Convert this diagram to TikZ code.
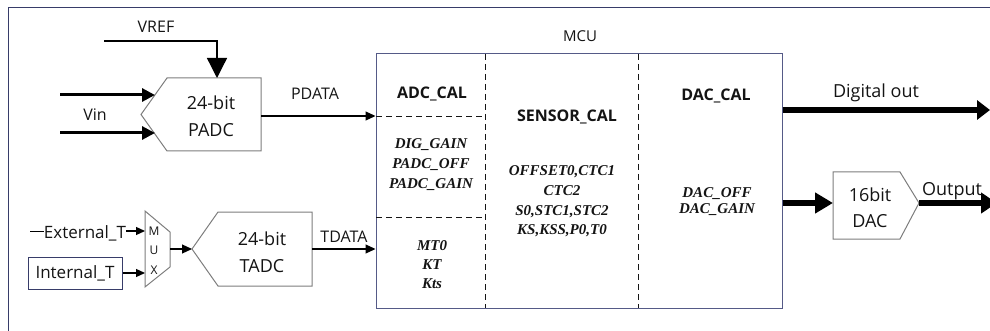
\documentclass[tikz,border=0pt]{standalone}
\usepackage{fontspec}
\setmainfont{Open Sans}
\newfontfamily\paramfont{Liberation Serif}
\usetikzlibrary{arrows.meta}

\definecolor{framecol}{RGB}{55,60,105}
\definecolor{shapecol}{RGB}{125,125,125}
\definecolor{mcucol}{RGB}{85,90,135}
\definecolor{textcol}{RGB}{20,20,20}

\tikzset{
  lbl/.style={inner sep=0pt, anchor=base, text=textcol, font=\fontsize{16}{18}\selectfont},
  biglbl/.style={lbl, font=\fontsize{18}{20}\selectfont},
  calhead/.style={lbl, font=\bfseries\fontsize{16}{18}\selectfont},
  param/.style={lbl, font=\paramfont\bfseries\itshape\fontsize{15}{18}\selectfont},
  muxlbl/.style={lbl, font=\fontsize{12}{13}\selectfont},
  block/.style={draw=shapecol, line width=1pt, line join=miter},
  divider/.style={draw=textcol, line width=0.8pt, dash pattern=on 6pt off 4pt},
  thin arrow/.style={line width=1.2pt, -{Triangle[length=10pt,width=9pt]}},
  vref arrow/.style={line width=1.3pt, -{Triangle[length=20pt,width=20pt]}},
  vin arrow/.style={line width=3pt, -{Triangle[length=13pt,width=13pt]}},
  bus arrow/.style={line width=5.5pt, -{Triangle[length=16pt,width=20pt]}}
}

\begin{document}
\begin{tikzpicture}[x=1pt, y=-1pt]
\useasboundingbox (0,0) rectangle (990,331);
% outer frame
\draw [framecol, line width=1pt] (8,331) -- (8,8) -- (990,8);

% pressure ADC
\draw [block] (167,78) -- (261,78) -- (261,151) -- (167,151) -- (141,114.5) -- cycle;
\node[biglbl] (padc1) at (211,110) {24-bit};
\node[biglbl] (padc2) at (211,137) {PADC};
\coordinate (padc-top) at (217,78);
\coordinate (padc-in1) at (155,95);
\coordinate (padc-in2) at (155,133);
\coordinate (padc-out) at (261,116);
\node[lbl] (vref) at (156,33) {VREF};
\coordinate (vref-in) at (104,41);
\draw [vref arrow] (vref-in) -| (padc-top);
\draw [vin arrow] (60,95) -- (padc-in1);
\draw [vin arrow] (60,133) -- (padc-in2);
\node[lbl] (vin) at (95,121) {Vin};

% MCU
\node[draw=mcucol, line width=1pt, minimum width=406pt, minimum height=254pt, inner sep=0pt] (mcu) at (579,181) {};
\node[lbl, font=\fontsize{15}{17}\selectfont] (mculbl) at (580,42) {MCU};
\draw [divider] (485,54) -- (485,308);
\draw [divider] (638,54) -- (638,308);
\draw [divider] (376,116) -- (485,116);
\draw [divider] (376,217) -- (485,217);
\node[calhead] (adccal) at (432,99) {ADC\_CAL};
\node[calhead] (sensorcal) at (567,122) {SENSOR\_CAL};
\node[calhead] (daccal) at (716,101) {DAC\_CAL};
\foreach \txt/\y [count=\i] in {DIG\_GAIN/149, PADC\_OFF/169, PADC\_GAIN/189}
  \node[param] (adcp\i) at (431,\y) {\txt};
\foreach \txt/\y [count=\i] in {MT0/250, KT/269, Kts/288}
  \node[param] (tp\i) at (432,\y) {\txt};
\foreach \txt/\y [count=\i] in {{OFFSET0,CTC1}/176, CTC2/196, {S0,STC1,STC2}/215, {KS,KSS,P0,T0}/234}
  \node[param] (senp\i) at (562,\y) {\txt};
\foreach \txt/\y [count=\i] in {DAC\_OFF/197, DAC\_GAIN/214}
  \node[param] (dacp\i) at (717,\y) {\txt};

\draw [thin arrow] (padc-out) -- (padc-out -| mcu.west);
\node[lbl] (pdata) at (315,100) {PDATA};

% temperature path
\draw [block] (145,211) -- (170,232) -- (170,267) -- (145,287) -- cycle;
\node[muxlbl] (muxm) at (154,235) {M};
\node[muxlbl] (muxu) at (154,254) {U};
\node[muxlbl] (muxx) at (154,274) {X};
\coordinate (mux-in1) at (145,231);
\coordinate (mux-in2) at (145,273);
\coordinate (mux-out) at (170,249);
\node[lbl, font=\fontsize{17}{19}\selectfont] (extT) at (85,238) {External\_T};
\draw [line width=1pt] (30,231) -- ([xshift=0.3pt]extT.west |- mux-in1);
\draw [thin arrow, -{Triangle[length=9pt,width=8pt]}] (extT.east |- mux-in1) -- (mux-in1);
\node[draw=framecol, line width=1pt, minimum width=94pt, minimum height=32pt, inner sep=0pt,
      text=textcol, font=\fontsize{17}{19}\selectfont] (intT) at (75,273) {Internal\_T};
\draw [thin arrow, -{Triangle[length=9pt,width=8pt]}] (intT.east) -- (mux-in2);

\draw [block] (192,249) -- (218,212) -- (312,212) -- (312,286) -- (218,286) -- cycle;
\node[biglbl] (tadc1) at (262,245) {24-bit};
\node[biglbl] (tadc2) at (262,272) {TADC};
\coordinate (tadc-in) at (192,249);
\coordinate (tadc-out) at (312,249);
\draw [thin arrow] (mux-out) -- (tadc-in);
\draw [thin arrow] (tadc-out) -- (tadc-out -| mcu.west);
\node[lbl] (tdata) at (344,242) {TDATA};

% outputs
\coordinate (dig-out) at (990,110);
\draw [bus arrow, -{Triangle[length=13pt,width=19pt]}] (mcu.east |- dig-out) -- (dig-out);
\node[biglbl] (digout) at (876,98) {Digital out};
\draw [block] (833,172) -- (900,172) -- (919,203) -- (900,239) -- (833,239) -- cycle;
\node[biglbl] (dac1) at (870,201) {16bit};
\node[biglbl] (dac2) at (870,227) {DAC};
\coordinate (dac-in) at (833,203);
\coordinate (dac-out) at (919,203);
\draw [bus arrow, -{Triangle[length=18pt,width=20pt]}] (mcu.east |- dac-in) -- (dac-in);
\draw [bus arrow] (dac-out) -- (997,203);
\node[biglbl] (output) at (952,196) {Output};
\end{tikzpicture}
\end{document}
